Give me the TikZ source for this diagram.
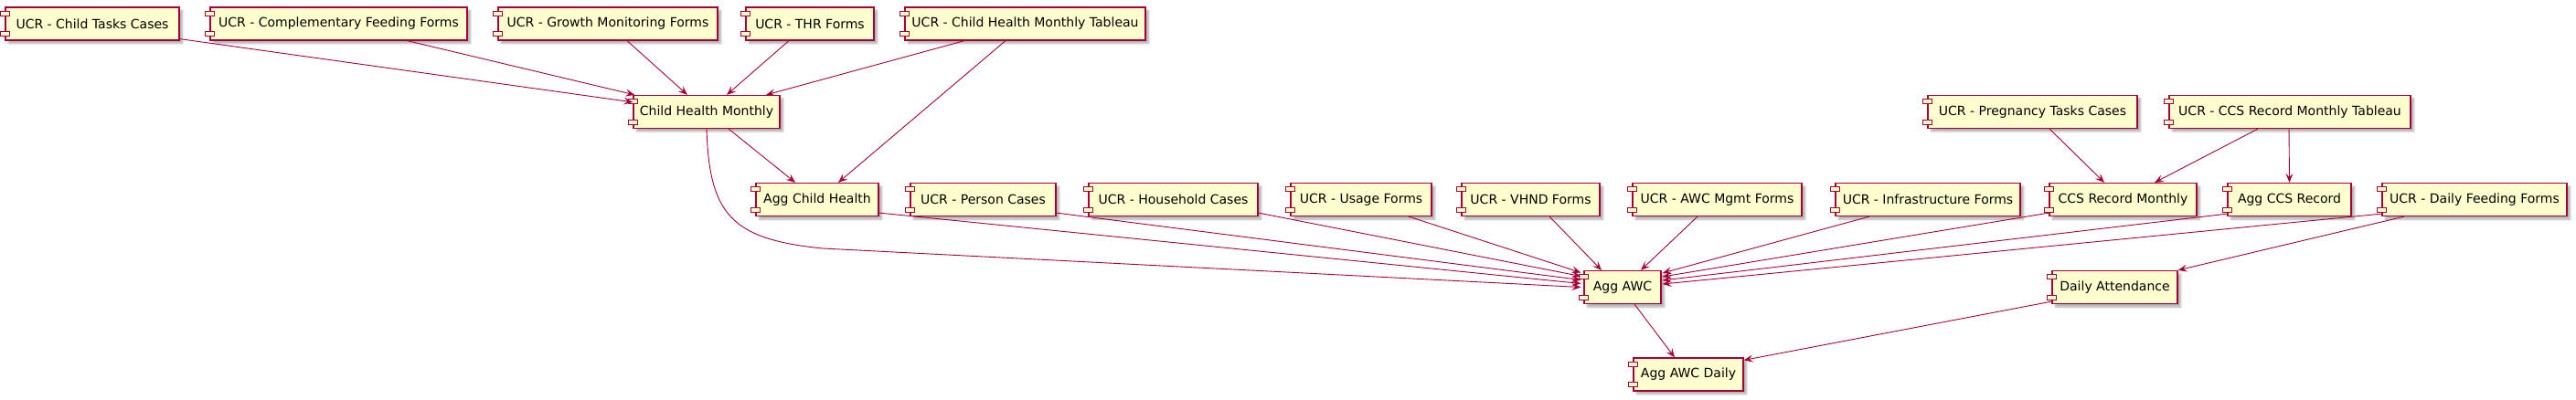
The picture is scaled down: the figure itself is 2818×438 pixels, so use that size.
\documentclass[tikz,border=0pt]{standalone}
\usepackage{fontspec}
\setmainfont{DejaVu Sans}
\usetikzlibrary{arrows.meta,shadows.blur}
\definecolor{umlred}{HTML}{A80036}
\definecolor{umlfill}{HTML}{FEFECE}
\tikzset{
  comp/.style={draw=umlred, fill=umlfill, line width=1.2pt, inner sep=0pt,
    minimum height=36pt, font=\fontsize{14pt}{16pt}\selectfont, text=black,
    blur shadow={shadow xshift=3.5pt, shadow yshift=-3.5pt, shadow blur steps=6, shadow opacity=32}},
  stub/.style={draw=umlred, fill=umlfill, line width=1.1pt},
  link/.style={draw=umlred, line width=0.9pt, -{Stealth[length=10pt,width=8pt,inset=4pt]}}
}
\begin{document}
\begin{tikzpicture}[x=1pt,y=-1pt]
\useasboundingbox (0,0) rectangle (2818,438);
% row 1
\node[comp, minimum width=190pt] (ctc)  at (101,26)    {UCR - Child Tasks Cases};
\node[comp, minimum width=281pt] (cff)  at (370.5,26)  {UCR - Complementary Feeding Forms};
\node[comp, minimum width=240pt] (gmf)  at (665,26)    {UCR - Growth Monitoring Forms};
\node[comp, minimum width=140pt] (thr)  at (886,26)    {UCR - THR Forms};
\node[comp, minimum width=263pt] (chmt) at (1121.5,26) {UCR - Child Health Monthly Tableau};
% row 2
\node[comp, minimum width=160pt] (chm)  at (773,122.5)   {Child Health Monthly};
\node[comp, minimum width=229pt] (ptc)  at (2223.5,122.5) {UCR - Pregnancy Tasks Cases};
\node[comp, minimum width=264pt] (ccst) at (2505,122.5)   {UCR - CCS Record Monthly Tableau};
% row 3
\node[comp, minimum width=134pt] (agch) at (894,218.5)    {Agg Child Health};
\node[comp, minimum width=159pt] (pc)   at (1075.5,218.5) {UCR - Person Cases};
\node[comp, minimum width=185pt] (hh)   at (1283.5,218.5) {UCR - Household Cases};
\node[comp, minimum width=154pt] (uf)   at (1489,218.5)   {UCR - Usage Forms};
\node[comp, minimum width=151pt] (vhnd) at (1674.5,218.5) {UCR - VHND Forms};
\node[comp, minimum width=185pt] (awcm) at (1878.5,218.5) {UCR - AWC Mgmt Forms};
\node[comp, minimum width=202pt] (inf)  at (2109,218.5)   {UCR - Infrastructure Forms};
\node[comp, minimum width=161pt] (ccsm) at (2322.5,218.5) {CCS Record Monthly};
\node[comp, minimum width=135pt] (accs) at (2504.5,218.5) {Agg CCS Record};
\node[comp, minimum width=202pt] (dff)  at (2707,218.5)   {UCR - Daily Feeding Forms};
% row 4
\node[comp, minimum width=84pt]  (aawc) at (1775,314.5)   {Agg AWC};
\node[comp, minimum width=137pt] (da)   at (2313.5,314.5) {Daily Attendance};
% row 5
\node[comp, minimum width=120pt] (aawcd) at (1847,410)    {Agg AWC Daily};
% component stubs
\foreach \n in {ctc,cff,gmf,thr,chmt,chm,ptc,ccst,agch,pc,hh,uf,vhnd,awcm,inf,ccsm,accs,dff,aawc,da,aawcd}{
  \draw[stub] ([shift={(-5,5)}]\n.north west) rectangle ([shift={(5,10)}]\n.north west);
  \draw[stub] ([shift={(-5,-10)}]\n.south west) rectangle ([shift={(5,-5)}]\n.south west);
}
% connectors
\draw[link] ([shift={(0,-2)}]ctc.south east) -- ([shift={(0,8)}]chm.north west);
\draw[link] ([shift={(75,0)}]cff.south) -- ([shift={(2,0)}]chm.north west);
\draw[link] ([shift={(21,0)}]gmf.south) -- ([shift={(-21,0)}]chm.north);
\draw[link] ([shift={(-23,0)}]thr.south) -- ([shift={(22,0)}]chm.north);
\draw[link] ([shift={(-66.5,0)}]chmt.south) -- ([shift={(65,0)}]chm.north);
\draw[link] ([shift={(-21.5,0)}]chmt.south) -- ([shift={(23,0)}]agch.north);
\draw[link] ([shift={(24,0)}]chm.south) -- ([shift={(-24,0)}]agch.north);
\draw[link] (chm.south) .. controls (776,235) and (800,262) .. (900,272) -- ([shift={(-3,0)}]aawc.west);
\draw[link] ([shift={(0,-4)}]agch.south east) -- ([shift={(-3,-4)}]aawc.west);
\draw[link] ([shift={(0,-4)}]pc.south east) -- ([shift={(-3,-8)}]aawc.west);
\draw[link] ([shift={(0,-4)}]hh.south east) -- ([shift={(-3,-12)}]aawc.west);
\draw[link] ([shift={(52,0)}]uf.south) -- ([shift={(-3,-16)}]aawc.west);
\draw[link] ([shift={(20.5,0)}]vhnd.south) -- ([shift={(-23,0)}]aawc.north);
\draw[link] ([shift={(-21.5,0)}]awcm.south) -- ([shift={(20,0)}]aawc.north);
\draw[link] ([shift={(-64,0)}]inf.south) -- ([shift={(1,-15.5)}]aawc.east);
\draw[link] ([shift={(0,-4)}]ccsm.south west) -- ([shift={(1,-11.5)}]aawc.east);
\draw[link] ([shift={(0,-3)}]accs.south west) -- ([shift={(1,-7.5)}]aawc.east);
\draw[link] ([shift={(0,-3)}]dff.south west) -- ([shift={(1,-3.5)}]aawc.east);
\draw[link] ([shift={(-77,0)}]dff.south) -- (da.north east);
\draw[link] ([shift={(18.5,0)}]ptc.south) -- ([shift={(-20.5,0)}]ccsm.north);
\draw[link] ([shift={(-35,0)}]ccst.south) -- ([shift={(34.5,0)}]ccsm.north);
\draw[link] ([shift={(-1,0)}]ccst.south) -- (accs.north);
\draw[link] ([shift={(13,0)}]aawc.south) -- ([shift={(-15,0)}]aawcd.north);
\draw[link] ([shift={(0,-3)}]da.south west) -- ([shift={(0,3)}]aawcd.north east);
\end{tikzpicture}
\end{document}
